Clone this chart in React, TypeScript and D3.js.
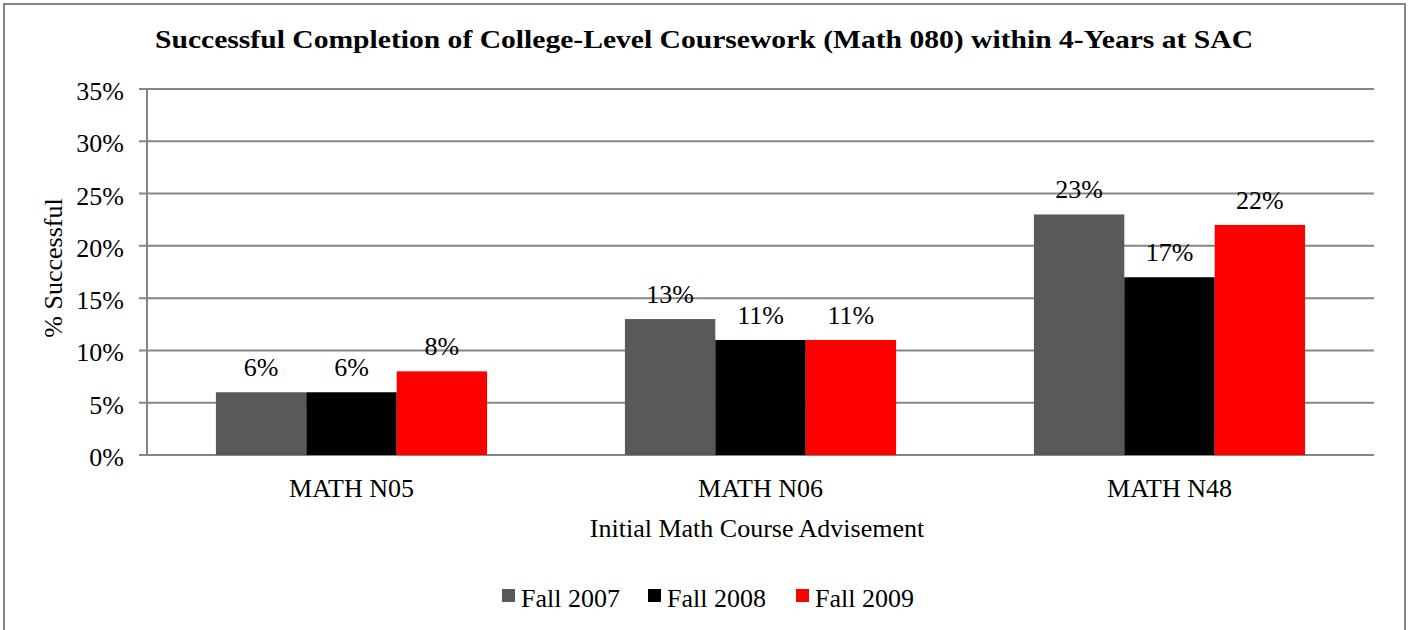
import React from "react";
import * as d3 from "d3";

const categories = ["MATH N05", "MATH N06", "MATH N48"];
const seriesNames = ["Fall 2007", "Fall 2008", "Fall 2009"];
const fall2007 = [6, 13, 23];
const fall2008 = [6, 11, 17];
const fall2009 = [8, 11, 22];
const yTicks = [0, 5, 10, 15, 20, 25, 30, 35];
const colors = ["#595959", "#000000", "#FF0000"];

const W = 1411;
const H = 630;
const left = 147;
const right = 1374;
const top = 89;
const bottom = 455;
const font = "'Liberation Serif', 'Times New Roman', serif";

export default function App() {
  const series = [fall2007, fall2008, fall2009];
  const y = d3.scaleLinear().domain([0, 35]).range([bottom, top]);
  const x0 = d3.scaleBand<string>().domain(categories).range([left, right]).paddingInner(0.337).paddingOuter(0.1685);
  const x1 = d3.scaleBand<string>().domain(seriesNames).range([0, x0.bandwidth()]);
  const gridColor = "#868686";
  const legendX = [502, 648, 796];

  return (
    <svg width={W} height={H} style={{ position: "absolute", left: 0, top: 0, background: "#fff" }} fontFamily={font}>
      <rect x={4} y={4} width={1401} height={640} fill="#fff" stroke={gridColor} strokeWidth={2} />
      <text x={704} y={48} textAnchor="middle" fontSize={25} fontWeight="bold" textLength={1098} lengthAdjust="spacingAndGlyphs">
        Successful Completion of College-Level Coursework (Math 080) within 4-Years at SAC
      </text>
      {yTicks.map((t) => (
        <g key={t}>
          <line x1={139} x2={right} y1={y(t)} y2={y(t)} stroke={gridColor} strokeWidth={2} />
          <text x={124} y={y(t) + 11} textAnchor="end" fontSize={26}>{t}%</text>
        </g>
      ))}
      <line x1={left} x2={left} y1={top} y2={bottom} stroke={gridColor} strokeWidth={2} />
      {categories.map((c, i) => (
        <g key={c}>
          {series.map((s, j) => {
            const bx = (x0(c) as number) + (x1(seriesNames[j]) as number);
            const bw = x1.bandwidth();
            return (
              <g key={j}>
                <rect x={bx} y={y(s[i])} width={bw} height={bottom - y(s[i])} fill={colors[j]} />
                <text x={bx + bw / 2} y={y(s[i]) - 16} textAnchor="middle" fontSize={26}>{s[i]}%</text>
              </g>
            );
          })}
          <text x={(x0(c) as number) + x0.bandwidth() / 2} y={497} textAnchor="middle" fontSize={26}>{c}</text>
        </g>
      ))}
      <text x={757} y={537} textAnchor="middle" fontSize={26}>Initial Math Course Advisement</text>
      <text transform={`translate(62,${268}) rotate(-90)`} textAnchor="middle" fontSize={26}>% Successful</text>
      {seriesNames.map((n, j) => (
        <g key={n}>
          <rect x={legendX[j]} y={589} width={13} height={13} fill={colors[j]} />
          <text x={legendX[j] + 19} y={607} fontSize={26}>{n}</text>
        </g>
      ))}
    </svg>
  );
}
